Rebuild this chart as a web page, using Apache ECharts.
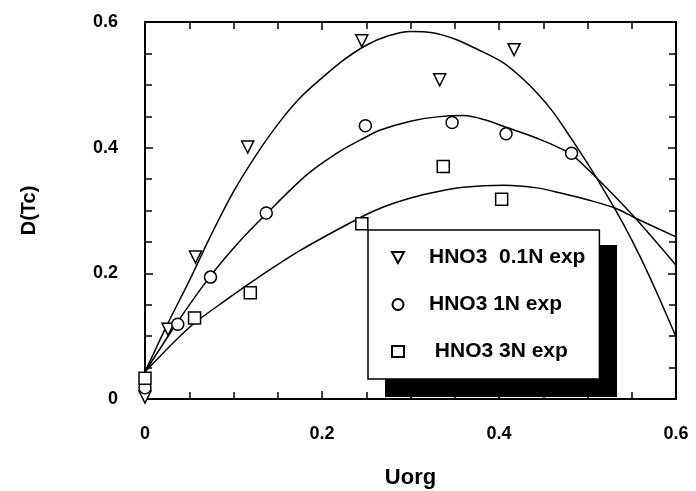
<!DOCTYPE html>
<html>
<head>
<meta charset="utf-8">
<script src="https://cdn.jsdelivr.net/npm/echarts@6/dist/echarts.min.js"></script>
<style>
  html, body { margin: 0; padding: 0; background: #fff; }
  #main { width: 696px; height: 491px; }
</style>
</head>
<body>
<div id="main"></div>
<script>
// series names as in the legend
var names = ['HNO3  0.1N exp', 'HNO3 1N exp', 'HNO3 3N exp'];

// measured points [Uorg, D(Tc)]
var exp01 = [[0, 0.003], [0.026, 0.111], [0.057, 0.226], [0.116, 0.401], [0.245, 0.570], [0.333, 0.508], [0.417, 0.556]];
var exp1 = [[0, 0.018], [0.037, 0.119], [0.074, 0.194], [0.137, 0.296], [0.249, 0.435], [0.347, 0.440], [0.408, 0.422], [0.482, 0.391]];
var exp3 = [[0, 0.033], [0.056, 0.129], [0.119, 0.169], [0.245, 0.279], [0.337, 0.370], [0.403, 0.318]];

// fitted curves
var fit01 = [[0, 0.043], [0.025, 0.118], [0.05, 0.188], [0.075, 0.262], [0.1, 0.330], [0.125, 0.387], [0.15, 0.437],
  [0.175, 0.479], [0.2, 0.511], [0.225, 0.540], [0.25, 0.563], [0.275, 0.578], [0.3, 0.585], [0.325, 0.583],
  [0.35, 0.573], [0.375, 0.557], [0.405, 0.535], [0.425, 0.512], [0.443, 0.487], [0.461, 0.457], [0.48, 0.418],
  [0.5, 0.375], [0.52, 0.329], [0.54, 0.280], [0.56, 0.225], [0.58, 0.164], [0.6, 0.099]];
var fit1 = [[0, 0.043], [0.037, 0.123], [0.073, 0.194], [0.105, 0.248], [0.138, 0.296], [0.183, 0.357], [0.22, 0.394],
  [0.247, 0.415], [0.266, 0.428], [0.3, 0.442], [0.33, 0.449], [0.36, 0.451], [0.385, 0.444], [0.405, 0.434],
  [0.443, 0.415], [0.48, 0.391], [0.5, 0.366], [0.525, 0.331], [0.554, 0.288], [0.6, 0.213]];
var fit3 = [[0, 0.043], [0.051, 0.115], [0.096, 0.162], [0.119, 0.185], [0.175, 0.236], [0.245, 0.290], [0.27, 0.306],
  [0.3, 0.320], [0.33, 0.330], [0.36, 0.337], [0.405, 0.340], [0.443, 0.336], [0.472, 0.327], [0.5, 0.317],
  [0.531, 0.304], [0.554, 0.288], [0.6, 0.258]];

var xTicks = [0, 0.2, 0.4, 0.6];
var yTicks = [0, 0.2, 0.4, 0.6];

var font = '"Liberation Sans", Arial, Helvetica, sans-serif';
var chart = echarts.init(document.getElementById('main'));

function makeAxis(ticks, pos, label, extra) {
  var a = {
    type: 'value',
    position: pos,
    min: ticks[0],
    max: ticks[ticks.length - 1],
    interval: ticks[1] - ticks[0],
    axisLine: { onZero: false, lineStyle: { color: '#000', width: 2 } },
    axisTick: { inside: true, length: 8, lineStyle: { color: '#000', width: 1.5 } },
    minorTick: { show: true, splitNumber: 4, length: 7, lineStyle: { color: '#000', width: 1.5 } },
    splitLine: { show: false },
    axisLabel: { show: false }
  };
  if (label) {
    a.axisLabel = {
      show: true,
      color: '#000',
      fontFamily: font,
      fontWeight: 'bold',
      fontSize: 18,
      margin: label,
      formatter: function (v) { return ticks.indexOf(+v.toFixed(2)) >= 0 ? String(+v.toFixed(2)) : ''; }
    };
  }
  return Object.assign(a, extra || {});
}

function fitLine(data) {
  return {
    type: 'line', data: data, smooth: 0.3, symbol: 'none', silent: true, z: 1,
    lineStyle: { color: '#000', width: 1.5 }
  };
}

function points(name, data, symbol, size, rot) {
  return {
    type: 'scatter', name: name, data: data, symbol: symbol, symbolSize: size, symbolRotate: rot || 0, z: 3,
    itemStyle: { color: '#fff', borderColor: '#000', borderWidth: 1.5, opacity: 1 }
  };
}

var option = {
  animation: false,
  backgroundColor: '#fff',
  grid: { left: 145, right: 20, top: 22, bottom: 92, outerBoundsMode: 'none' },
  xAxis: [
    makeAxis(xTicks, 'bottom', 26, {
      name: 'Uorg', nameLocation: 'middle', nameGap: 68,
      nameTextStyle: { color: '#000', fontFamily: font, fontWeight: 'bold', fontSize: 22 }
    }),
    makeAxis(xTicks, 'top', 0)
  ],
  yAxis: [
    makeAxis(yTicks, 'left', 27, {
      name: 'D(Tc)', nameLocation: 'middle', nameGap: 106,
      nameTextStyle: { color: '#000', fontFamily: font, fontWeight: 'bold', fontSize: 20 }
    }),
    makeAxis(yTicks, 'right', 0)
  ],
  // black drop shadow behind the legend box
  graphic: [{
    type: 'rect', left: 385, top: 245, z: 2, silent: true,
    shape: { width: 232, height: 152 },
    style: { fill: '#000' }
  }],
  legend: {
    data: [{ name: names[0], icon: 'path://M0,0L10,0L5,9Z' }, { name: names[1] }, { name: names[2] }],
    orient: 'vertical',
    left: 368,
    top: 230,
    padding: [17, 14, 17, 23],
    itemGap: 26,
    itemWidth: 12,
    itemHeight: 11,
    selectedMode: false,
    backgroundColor: '#fff',
    borderColor: '#000',
    borderWidth: 1.5,
    formatter: function (n) { return n === names[2] ? ' ' + n : n; },
    textStyle: { color: '#000', fontFamily: font, fontWeight: 'bold', fontSize: 21, padding: [0, 0, 0, 20] }
  },
  series: [
    fitLine(fit01),
    fitLine(fit1),
    fitLine(fit3),
    points(names[0], exp01, 'triangle', 12, 180),
    points(names[1], exp1, 'circle', 12),
    points(names[2], exp3, 'rect', 12)
  ]
};

chart.setOption(option);
</script>
</body>
</html>
